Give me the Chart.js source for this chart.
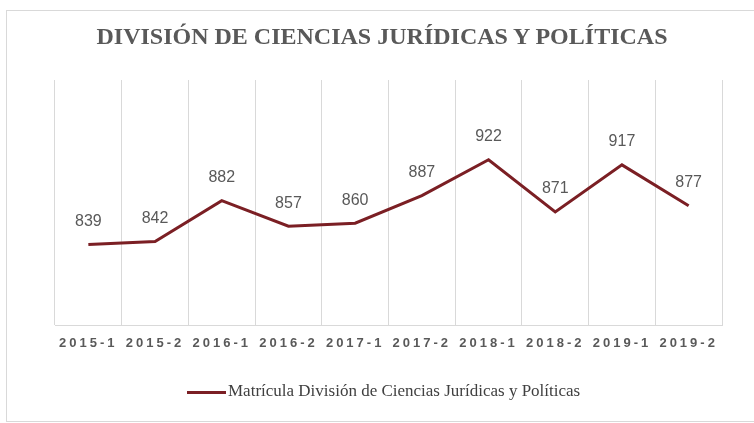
<!DOCTYPE html>
<html>
<head>
<meta charset="utf-8">
<script src="https://cdn.jsdelivr.net/npm/chart.js@4.4.1/dist/chart.umd.min.js"></script>
<style>
    body { margin: 0; background: #fff; }
    #wrap { position: relative; width: 754px; height: 423px; overflow: hidden; }
    #frame { position: absolute; left: 6px; top: 10px; width: 800px; height: 410px; border: 1px solid #d9d9d9; }
    #title {
        position: absolute; left: 0; width: 764px; top: 23px; text-align: center;
        font-family: "Liberation Serif", serif; font-weight: bold; font-size: 24px;
        letter-spacing: 0px; color: #595959;
    }
    #legend {
        position: absolute; left: 187px; top: 381px; white-space: nowrap;
        font-family: "Liberation Serif", serif; font-size: 17px; color: #404040;
    }
    #legend span.line { display: inline-block; width: 39px; height: 3px; background: #7b1f24; vertical-align: middle; margin-right: 2px; }
    canvas { position: absolute; left: 0; top: 0; }
</style>
</head>
<body>
<div id="wrap">
    <div id="frame"></div>
    <canvas id="chart" width="754" height="423"></canvas>
    <div id="title">DIVISIÓN DE CIENCIAS JURÍDICAS Y POLÍTICAS</div>
    <div id="legend"><span class="line"></span>Matrícula División de Ciencias Jurídicas y Políticas</div>
</div>
<script>
const periods = ["2015-1", "2015-2", "2016-1", "2016-2", "2017-1", "2017-2", "2018-1", "2018-2", "2019-1", "2019-2"];
const enrollment = [839, 842, 882, 857, 860, 887, 922, 871, 917, 877];
const seriesName = "Matrícula División de Ciencias Jurídicas y Políticas";

// letter spacing for the axis labels, reset before the data labels
const spacing = {
    id: "spacing",
    beforeDraw(chart) { chart.ctx.letterSpacing = "3px"; },
    beforeDatasetsDraw(chart) { chart.ctx.letterSpacing = "0px"; }
};

// value labels above each point
const valueLabels = {
    id: "valueLabels",
    afterDatasetsDraw(chart) {
        const ctx = chart.ctx;
        const meta = chart.getDatasetMeta(0);
        ctx.save();
        ctx.font = "16px 'Liberation Sans', sans-serif";
        ctx.fillStyle = "#595959";
        ctx.textAlign = "center";
        ctx.textBaseline = "middle";
        meta.data.forEach((pt, i) => {
            ctx.fillText(chart.data.datasets[0].data[i], pt.x, pt.y - 23);
        });
        ctx.restore();
    }
};

new Chart(document.getElementById("chart").getContext("2d"), {
    type: "line",
    data: {
        labels: periods,
        datasets: [
            { label: seriesName, data: enrollment, borderColor: "#7b1f24", borderWidth: 3, pointRadius: 0, tension: 0, fill: false }
        ]
    },
    options: {
        responsive: false,
        animation: false,
        layout: { padding: { left: 55, right: 32, top: 80, bottom: 62 } },
        plugins: {
            legend: { display: false },
            tooltip: { enabled: false }
        },
        scales: {
            x: {
                offset: true,
                grid: { offset: true, color: "#d9d9d9", drawTicks: false },
                border: { color: "#d9d9d9" },
                ticks: {
                    color: "#595959", padding: 10, maxRotation: 0,
                    font: { family: "'Liberation Sans', sans-serif", size: 13, weight: "bold" }
                }
            },
            y: { display: false, min: 760, max: 1000 }
        }
    },
    plugins: [spacing, valueLabels]
});
</script>
</body>
</html>
